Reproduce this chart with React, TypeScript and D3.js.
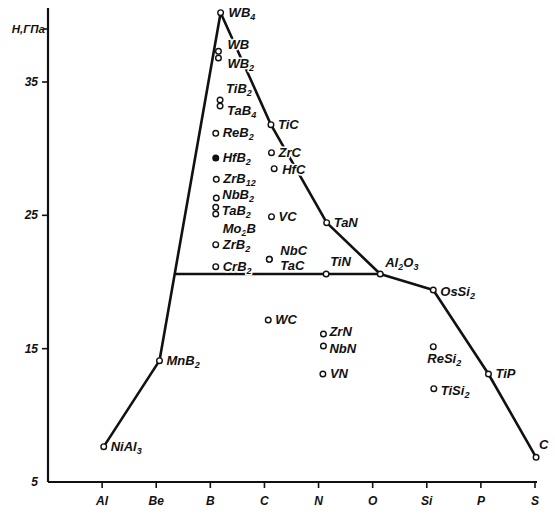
import * as d3 from 'd3';
import React from 'react';

// hardness (GPa) of compounds vs. the non-metal / light element they are built on
const elements = ['Al', 'Be', 'B', 'C', 'N', 'O', 'Si', 'P', 'S'];
const yTicks = [5, 15, 25, 35];

const compounds = ['NiAl_3', 'MnB_2', 'WB_4', 'WB', 'WB_2', 'TiB_2', 'TaB_4', 'ReB_2', 'HfB_2', 'ZrB_12',
    'NbB_2', 'TaB_2', 'Mo_2B', 'ZrB_2', 'CrB_2', 'TiC', 'ZrC', 'HfC', 'VC', 'NbC', 'TaC', 'WC',
    'TaN', 'TiN', 'ZrN', 'NbN', 'VN', 'Al_2O_3', 'OsSi_2', 'ReSi_2', 'TiSi_2', 'TiP', 'C'];
// position along the element axis (1 = Al ... 9 = S)
const position = [1.03, 2.06, 3.19, 3.15, 3.15, 3.18, 3.18, 3.1, 3.1, 3.11,
    3.11, 3.1, 3.1, 3.1, 3.1, 4.12, 4.13, 4.18, 4.13, 4.09, 4.09, 4.07,
    5.15, 5.14, 5.09, 5.09, 5.08, 6.14, 7.12, 7.12, 7.13, 8.14, 9.02];
const hardness = [7.65, 14.1, 40.2, 37.3, 36.8, 33.65, 33.2, 31.15, 29.3, 27.7,
    26.3, 25.6, 25.1, 22.8, 21.15, 31.8, 29.7, 28.5, 24.9, 21.7, 21.7, 17.15,
    24.45, 20.6, 16.1, 15.2, 13.1, 20.6, 19.4, 15.15, 12.0, 13.1, 6.85];
const filled = ['HfB_2'];

const leftBoundary = ['NiAl_3', 'MnB_2', 'WB_4'];
const rightBoundary = ['WB_4', 'TiC', 'TaN', 'Al_2O_3', 'OsSi_2', 'TiP', 'C'];

// label placement relative to the marker
const labelOffset = {
    WB_4: [8, 4], WB: [9, -2], WB_2: [9, 10], TiB_2: [6, -7], TaB_4: [7, 9],
    NbB_2: [6, 1], TaB_2: [6, 8], Mo_2B: [7, 19], NbC: [11, -4], TaC: [11, 11],
    TiN: [4, -8], Al_2O_3: [5, -7], ZrN: [6, 2], NbN: [6, 7],
    ReSi_2: [-6, 16], C: [3, -8], OsSi_2: [7, 6], TiSi_2: [7, 6], HfC: [8, 5],
};

const W = 555, H = 518;
const x = d3.scaleLinear().domain([0, 9]).range([48, 535]);
const y = d3.scaleLinear().domain([5, 35]).range([482, 82]);

const font = '"Liberation Sans", Arial, sans-serif';

function Formula({text}) {
    // "Al_2O_3" -> Al₂O₃ with real subscript tspans
    const parts = text.split(/_(\d+)/);
    return (<>{parts.map((p, i) => i % 2 ?
        <tspan key={i} fontSize={9} dy={3}>{p}</tspan> :
        <tspan key={i} dy={i > 0 ? -3 : 0}>{p}</tspan>)}</>);
}

export default function App() {
    const pts = compounds.map((c, i) => ({name: c, px: x(position[i]), py: y(hardness[i])}));
    const byName = Object.fromEntries(pts.map(p => [p.name, p]));
    const line = d3.line().x(d => d.px).y(d => d.py);

    // horizontal plateau: from left boundary (MnB2 -> WB4) to Al2O3 at the same hardness
    const a = byName['MnB_2'], b = byName['WB_4'], al = byName['Al_2O_3'];
    const t = (al.py - a.py) / (b.py - a.py);
    const plateau = [{px: a.px + t * (b.px - a.px), py: al.py}, al];

    return (
        <svg width={W} height={H} style={{position: 'absolute', left: 0, top: 0, background: '#fff'}}
            fontFamily={font} fontStyle="italic" fontWeight="bold">
            {/* axes */}
            <g stroke="#111" strokeWidth={2.2} fill="none">
                <line x1={x(0)} x2={x(0)} y1={8} y2={y(5)} />
                <line x1={x(0)} x2={x(9) + 2} y1={y(5)} y2={y(5)} />
                {yTicks.slice(1).map(v => <line key={v} x1={x(0) - 6} x2={x(0)} y1={y(v)} y2={y(v)} strokeWidth={1.6} />)}
                <line x1={x(0) - 4} x2={x(0)} y1={29} y2={29} strokeWidth={1.6} />
                {elements.map((e, i) => <line key={e} x1={x(i + 1)} x2={x(i + 1)} y1={y(5)} y2={y(5) + 6} strokeWidth={1.6} />)}
            </g>
            <g fontSize={12} fill="#111">
                {yTicks.map(v => <text key={v} x={x(0) - 10} y={y(v) + 4} textAnchor="end">{v}</text>)}
                <text x={x(0) - 3} y={33} textAnchor="end" fontSize={11.5}>Н,ГПа</text>
                {elements.map((e, i) => <text key={e} x={x(i + 1)} y={y(5) + 23} textAnchor="middle">{e}</text>)}
            </g>

            {/* boundary lines */}
            <g stroke="#111" strokeWidth={2.6} fill="none" strokeLinejoin="round">
                <path d={line(leftBoundary.map(n => byName[n]))} />
                <path d={line(rightBoundary.map(n => byName[n]))} />
                <path d={line(plateau)} />
            </g>

            {/* labels, with a white halo that breaks the lines like in the print */}
            <g fontSize={13} fill="#111">
                {pts.map(p => {
                    const [dx, dy] = labelOffset[p.name] || [7, 4];
                    return (
                        <text key={p.name} x={p.px + dx} y={p.py + dy} stroke="#fff" strokeWidth={3}
                            paintOrder="stroke" strokeLinejoin="round">
                            <Formula text={p.name} />
                        </text>
                    );
                })}
            </g>

            {/* markers */}
            <g stroke="#111" strokeWidth={1.4}>
                {pts.map(p => <circle key={p.name} cx={p.px} cy={p.py} r={2.8}
                    fill={filled.includes(p.name) ? '#111' : '#fff'} />)}
            </g>
        </svg>
    );
}
